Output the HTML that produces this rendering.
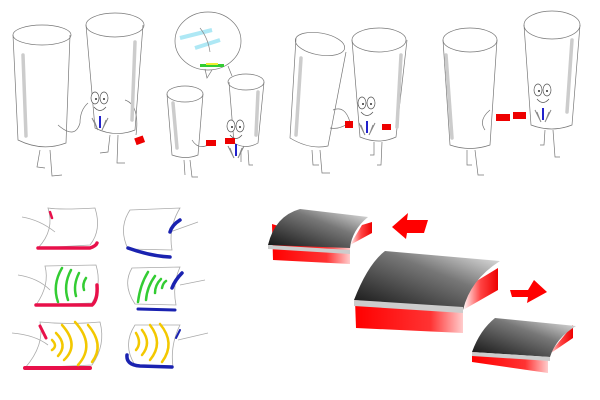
<!DOCTYPE html>
<html><head><meta charset="utf-8"><style>html,body{margin:0;padding:0;background:#fff}svg{display:block}</style></head>
<body>
<svg width="600" height="400" viewBox="0 0 600 400" xmlns="http://www.w3.org/2000/svg">
<defs>
<g id="face">
<ellipse cx="-5" cy="0" rx="4" ry="6" fill="#fff" stroke="#555" stroke-width="0.7"/>
<ellipse cx="4" cy="0" rx="4" ry="6" fill="#fff" stroke="#555" stroke-width="0.7"/>
<circle cx="-4" cy="1" r="1" fill="#333"/><circle cx="4" cy="1" r="1" fill="#333"/>
<path d="M-6 9 Q0 16 6 9" fill="none" stroke="#555" stroke-width="0.7"/>
<path d="M-8 20 L-2 32 M8 20 L2 32 M-6 22 L-3 30 M6 22 L3 30" stroke="#888" stroke-width="1"/>
<path d="M0 18 L0 30" stroke="#2222cc" stroke-width="2"/>
</g>
<linearGradient id="top" x1="0" y1="1" x2="1" y2="0"><stop offset="0" stop-color="#111"/><stop offset="0.6" stop-color="#777"/><stop offset="1" stop-color="#eee"/></linearGradient>
<linearGradient id="red" x1="0" y1="0" x2="1" y2="0"><stop offset="0" stop-color="#f00"/><stop offset="0.7" stop-color="#f33"/><stop offset="1" stop-color="#fcc"/></linearGradient>
<linearGradient id="reds" x1="0" y1="0" x2="1" y2="0"><stop offset="0" stop-color="#fff"/><stop offset="0.5" stop-color="#f44"/><stop offset="1" stop-color="#e00"/></linearGradient>
</defs>
<g fill="none" stroke="#777" stroke-width="0.7">
<ellipse cx="42" cy="35" rx="29" ry="10"/>
<path d="M13 35 L18 140 Q42 152 66 143 L70 35"/>
<path d="M40 150 L37 167 L45 168 M50 150 L52 176 L62 175"/>
<ellipse cx="115" cy="25" rx="29" ry="12"/>
<path d="M86 25 L95 128 Q115 138 135 130 L143 25"/>
<path d="M110 135 L108 152 L100 153 M118 135 L117 163 L125 163"/>
<path d="M58 125 Q75 140 80 123 Q80 110 88 103"/>
<path d="M125 100 Q140 105 136 135"/>
<ellipse cx="208" cy="41" rx="33" ry="29"/>
<path d="M205 69 L207 78 L212 70 M228 66 L232 76"/>
<ellipse cx="185" cy="94" rx="18" ry="8"/>
<path d="M167 94 L172 155 Q186 160 198 155 L203 94"/>
<path d="M184 160 L185 175 M190 160 L192 177 L198 177"/>
<ellipse cx="246" cy="82" rx="18" ry="8"/>
<path d="M229 82 L234 143 Q246 150 258 143 L264 82"/>
<path d="M241 150 L241 162 M248 150 L249 165 L253 165"/>
<path d="M192 140 Q198 150 208 145"/>
<ellipse cx="320" cy="44" rx="25" ry="11" transform="rotate(10 320 44)"/>
<path d="M296 38 L290 138 Q310 150 328 146 L346 52"/>
<path d="M312 150 L313 165 L319 165 M320 150 L322 173 L330 173"/>
<ellipse cx="379" cy="40" rx="27" ry="12"/>
<path d="M352 40 L360 137 Q379 145 396 137 L407 40"/>
<path d="M374 142 L374 155 L370 155 M382 142 L381 165 L377 165"/>
<path d="M333 110 Q345 105 350 122 Q340 130 330 128"/>
<ellipse cx="470" cy="40" rx="27" ry="12"/>
<path d="M443 40 L450 145 Q470 152 490 145 L497 40"/>
<path d="M467 150 L467 165 L472 165 M475 150 L478 175 L484 175"/>
<ellipse cx="552" cy="25" rx="28" ry="14"/>
<path d="M524 25 L531 125 Q552 133 572 125 L580 25"/>
<path d="M545 130 L544 145 L540 145 M553 130 L555 157 L560 157"/>
<path d="M490 110 Q478 120 485 130"/>
</g>
<g stroke="#ccc" stroke-width="3.5" stroke-linecap="round">
<line x1="23" y1="55" x2="26" y2="136"/><line x1="135" y1="42" x2="132" y2="120"/>
<line x1="173" y1="103" x2="177" y2="148"/><line x1="258" y1="92" x2="256" y2="135"/>
<line x1="301" y1="58" x2="296" y2="135"/><line x1="401" y1="55" x2="397" y2="127"/>
<line x1="446" y1="55" x2="452" y2="138"/><line x1="572" y1="40" x2="567" y2="112"/>
</g>
<use href="#face" x="100" y="98"/>
<use href="#face" x="236" y="126"/>
<use href="#face" x="367" y="103"/>
<use href="#face" x="543" y="90"/>
<path d="M180 38 L212 30 M195 48 L220 40" stroke="#aee8f5" stroke-width="4"/>
<path d="M200 28 Q208 38 210 52" stroke="#888" fill="none" stroke-width="0.7"/>
<rect x="200" y="64" width="24" height="3" fill="#3c3"/><rect x="206" y="63" width="12" height="2" fill="#ee3"/>
<g fill="#e00">
<rect x="135" y="137" width="9" height="7" transform="rotate(-20 139 140)"/>
<rect x="206" y="140" width="10" height="6"/><rect x="225" y="138" width="10" height="6"/>
<rect x="345" y="121" width="8" height="7"/><rect x="382" y="124" width="9" height="6"/>
<rect x="496" y="114" width="14" height="7"/><rect x="513" y="112" width="13" height="7"/>
</g>
<g fill="none" stroke="#aaa" stroke-width="0.8">
<path d="M48 208 Q60 210 95 208 Q102 230 90 245 L38 248 Q55 230 48 208 Z"/>
<path d="M130 210 L180 208 Q168 228 172 250 L128 249 Q118 228 130 210 Z"/>
<path d="M45 266 L96 265 Q102 285 92 303 L36 305 Q50 285 45 266 Z"/>
<path d="M132 268 L180 267 Q172 285 176 305 L135 304 Q122 285 132 268 Z"/>
<path d="M40 322 Q70 325 100 322 Q106 345 92 365 L25 368 Q45 345 40 322 Z"/>
<path d="M135 325 L180 325 Q170 345 173 367 L135 365 Q122 345 135 325 Z"/>
<path d="M22 217 Q40 220 55 232 M198 222 L170 232 M18 275 Q38 278 50 290 M205 280 L180 285 M12 333 Q35 335 48 345 M208 333 L178 340"/>
</g>
<g fill="none" stroke-linecap="round">
<path d="M38 248 L90 248 Q96 246 97 243" stroke="#e8104a" stroke-width="3.5"/>
<path d="M50 212 L52 218" stroke="#e8104a" stroke-width="2.5"/>
<path d="M128 248 Q150 256 170 257" stroke="#1a22b0" stroke-width="3.5"/>
<path d="M180 220 Q172 225 170 232" stroke="#1a22b0" stroke-width="3.5"/>
<path d="M36 305 L92 305 Q98 300 97 285" stroke="#e8104a" stroke-width="3.5"/>
<path d="M138 309 L175 310" stroke="#1a22b0" stroke-width="3"/>
<path d="M182 273 Q175 280 172 288" stroke="#1a22b0" stroke-width="3.5"/>
<path d="M58 302 Q52 285 62 268 M68 300 Q63 285 71 270 M76 296 Q73 285 79 273 M84 290 Q82 284 86 278" stroke="#3c3" stroke-width="2.5"/>
<path d="M138 302 Q140 285 148 272 M146 300 Q147 287 155 276 M155 293 Q155 285 161 279 M162 288 Q163 283 166 281" stroke="#3c3" stroke-width="2.5"/>
<path d="M25 368 L90 368" stroke="#e8104a" stroke-width="4"/>
<path d="M40 326 L46 338" stroke="#e8104a" stroke-width="3"/>
<path d="M52 340 Q58 346 52 350 M56 333 Q68 345 58 356 M62 325 Q80 345 64 360 M75 322 Q96 345 78 365 M88 325 Q105 345 92 362" stroke="#f3c800" stroke-width="2.5"/>
<path d="M136 333 Q142 343 136 350 M142 330 Q152 343 142 355 M150 325 Q164 343 150 360 M160 324 Q176 343 162 362" stroke="#f3c800" stroke-width="2.5"/>
<path d="M127 355 Q126 365 140 366 L172 367" stroke="#1a22b0" stroke-width="3.5"/>
<path d="M180 330 L176 338" stroke="#1a22b0" stroke-width="2"/>
</g>
<path d="M272 224 L273 260 L350 264 L350 248 Z" fill="url(#red)"/>
<path d="M350 245 L372 233 L372 222 L362 225 Z" fill="url(#reds)"/>
<path d="M268 245 Q275 216 300 209 L368 217 Q352 230 350 248 Z" fill="url(#top)"/>
<path d="M268 245 L350 250 L350 254 L268 249 Z" fill="#ccc"/>
<path d="M355 300 L356 328 L463 333 L463 310 Z" fill="url(#red)"/>
<path d="M463 310 L498 290 L498 268 L470 285 Z" fill="url(#reds)"/>
<path d="M354 300 Q368 264 385 251 L500 261 Q470 280 463 310 Z" fill="url(#top)"/>
<path d="M354 300 L463 307 L463 313 L354 306 Z" fill="#ccc"/>
<path d="M472 352 L472 362 L548 373 L548 360 Z" fill="url(#red)"/>
<path d="M548 355 L573 338 L573 325 Z" fill="url(#reds)"/>
<path d="M472 352 Q480 330 495 318 L576 326 Q556 338 550 357 Z" fill="url(#top)"/>
<path d="M472 352 L550 357 L550 361 L472 356 Z" fill="#ccc"/>
<path d="M392 227 L408 213 L407 220 L428 220 L424 233 L407 233 L406 239 Z" fill="#f00"/>
<path d="M510 290 L528 290 L534 280 L547 292 L527 303 L528 297 L512 297 Z" fill="#f00"/>
</svg>
</body></html>
